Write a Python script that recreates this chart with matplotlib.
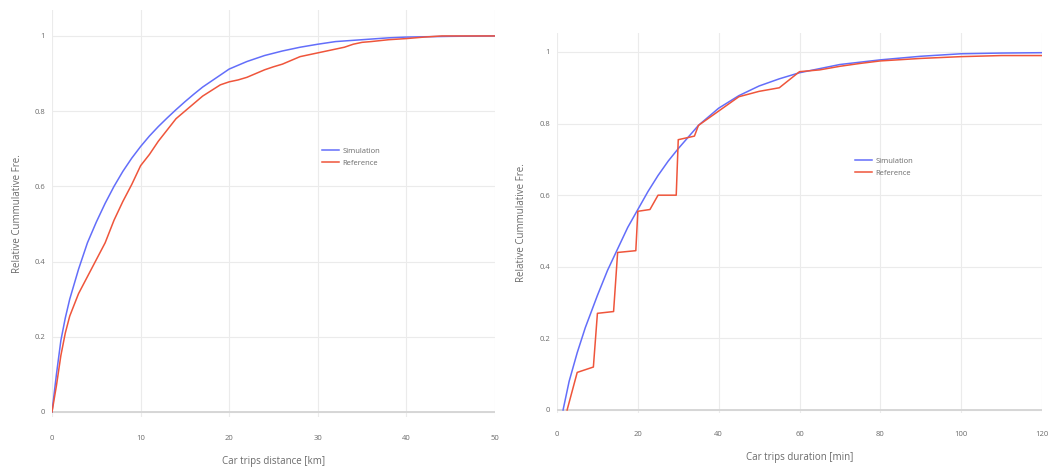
import matplotlib
matplotlib.use("Agg")
import matplotlib.pyplot as plt

plt.rcParams['font.family'] = ['Open Sans', 'DejaVu Sans']

# ---- data: trip distance (km) ----
dist_sim_x = [0, 0.5, 1, 1.5, 2, 3, 4, 5, 6, 7, 8, 9, 10, 11, 12, 13, 14, 15, 16, 17, 18, 19, 20,
              22, 24, 26, 28, 30, 32, 35, 38, 40, 45, 50]
dist_sim_y = [0, 0.10, 0.19, 0.25, 0.30, 0.38, 0.45, 0.505, 0.555, 0.60, 0.64, 0.675, 0.706,
              0.734, 0.759, 0.782, 0.804, 0.825, 0.845, 0.864, 0.88, 0.896, 0.912, 0.932, 0.948,
              0.96, 0.97, 0.978, 0.985, 0.99, 0.995, 0.997, 0.999, 1.0]
dist_ref_x = [0, 0.5, 1, 1.5, 2, 3, 4, 5, 6, 7, 8, 9, 10, 11, 12, 13, 14, 15, 16, 17, 18, 19, 20,
              21, 22, 23, 24, 25, 26, 27, 28, 29, 30, 31, 32, 33, 34, 35, 36, 38, 40, 42, 44, 50]
dist_ref_y = [0, 0.07, 0.15, 0.21, 0.255, 0.315, 0.36, 0.405, 0.45, 0.51, 0.56, 0.605, 0.655,
              0.685, 0.72, 0.75, 0.78, 0.80, 0.82, 0.84, 0.855, 0.87, 0.878, 0.883, 0.89, 0.90,
              0.91, 0.918, 0.925, 0.935, 0.945, 0.95, 0.955, 0.96, 0.965, 0.97, 0.978, 0.983,
              0.985, 0.99, 0.993, 0.997, 1.0, 1.0]

# ---- data: trip duration (min) ----
dur_sim_x = [1.5, 3, 5, 7, 10, 12.5, 15, 17.5, 20, 22.5, 25, 27.5, 30, 35, 40, 45, 50, 55, 60,
             70, 80, 90, 100, 110, 120]
dur_sim_y = [0, 0.08, 0.16, 0.23, 0.32, 0.39, 0.45, 0.51, 0.56, 0.61, 0.655, 0.695, 0.73, 0.795,
             0.843, 0.878, 0.905, 0.925, 0.942, 0.965, 0.978, 0.988, 0.995, 0.997, 0.998]
dur_ref_x = [2.5, 5, 9, 10, 14, 15, 19.5, 20, 23, 25, 29.5, 30, 34, 35, 40, 45, 50, 55, 60, 65,
             70, 75, 80, 90, 100, 110, 120]
dur_ref_y = [0, 0.105, 0.12, 0.27, 0.275, 0.44, 0.445, 0.555, 0.56, 0.60, 0.60, 0.755, 0.765,
             0.795, 0.835, 0.875, 0.89, 0.90, 0.945, 0.95, 0.96, 0.968, 0.975, 0.982, 0.987,
             0.99, 0.99]

dist_ticks = [0, 10, 20, 30, 40, 50]
dur_ticks = [0, 20, 40, 60, 80, 100, 120]
y_ticks = [0, 0.2, 0.4, 0.6, 0.8, 1]
y_ticklabels = ['0', '0.2', '0.4', '0.6', '0.8', '1']

BLUE = '#636efa'
ORANGE = '#EF553B'
TXT = '#6b6b6b'

W, H = 1055, 468
fig = plt.figure(figsize=(W / 100, H / 100), dpi=100)
fig.patch.set_facecolor('white')


def px_ax(l, r, t, b):
    return fig.add_axes([l / W, 1 - b / H, (r - l) / W, (b - t) / H])


def style(ax, xlim, ylim, xticks, xlabel, ylabelpad):
    ax.set_xlim(*xlim)
    ax.set_ylim(*ylim)
    ax.set_xticks(xticks)
    ax.set_xticklabels([str(t) for t in xticks])
    ax.set_yticks(y_ticks)
    ax.set_yticklabels(y_ticklabels)
    for s in ax.spines.values():
        s.set_visible(False)
    ax.grid(True, color='#ebebeb', lw=0.8)
    ax.set_axisbelow(True)
    ax.axhline(0, color='#d4d4d4', lw=1.3, zorder=1)
    ax.tick_params(axis='x', length=0, labelsize=5.5, colors=TXT, pad=13)
    ax.tick_params(axis='y', length=0, labelsize=5.5, colors=TXT, pad=5)
    ax.set_xlabel(xlabel, fontsize=7, color=TXT, labelpad=10)
    ax.set_ylabel('Relative Cummulative Fre.', fontsize=7, color=TXT, labelpad=ylabelpad)


ax1 = px_ax(52, 495, 10, 417)
style(ax1, (0, 50), (-0.0133, 1.069), dist_ticks, 'Car trips distance [km]', 8)
ax1.plot(dist_sim_x, dist_sim_y, color=BLUE, lw=1.1, label='Simulation')
ax1.plot(dist_ref_x, dist_ref_y, color=ORANGE, lw=1.1, label='Reference')
ax1.legend(loc='upper left', bbox_to_anchor=(318 / W, 1 - 144 / H), bbox_transform=fig.transFigure,
           frameon=False, fontsize=5.5, handlelength=2.2, handletextpad=0.5, labelspacing=0.6,
           labelcolor=TXT, borderpad=0)

ax2 = px_ax(557, 1042, 33, 413)
style(ax2, (0, 120), (-0.0084, 1.053), dur_ticks, 'Car trips duration [min]', 9)
ax2.plot(dur_sim_x, dur_sim_y, color=BLUE, lw=1.1, label='Simulation')
ax2.plot(dur_ref_x, dur_ref_y, color=ORANGE, lw=1.1, label='Reference')
ax2.legend(loc='upper left', bbox_to_anchor=(851 / W, 1 - 154 / H), bbox_transform=fig.transFigure,
           frameon=False, fontsize=5.5, handlelength=2.2, handletextpad=0.5, labelspacing=0.6,
           labelcolor=TXT, borderpad=0)

fig.savefig('out.png', dpi=100)
